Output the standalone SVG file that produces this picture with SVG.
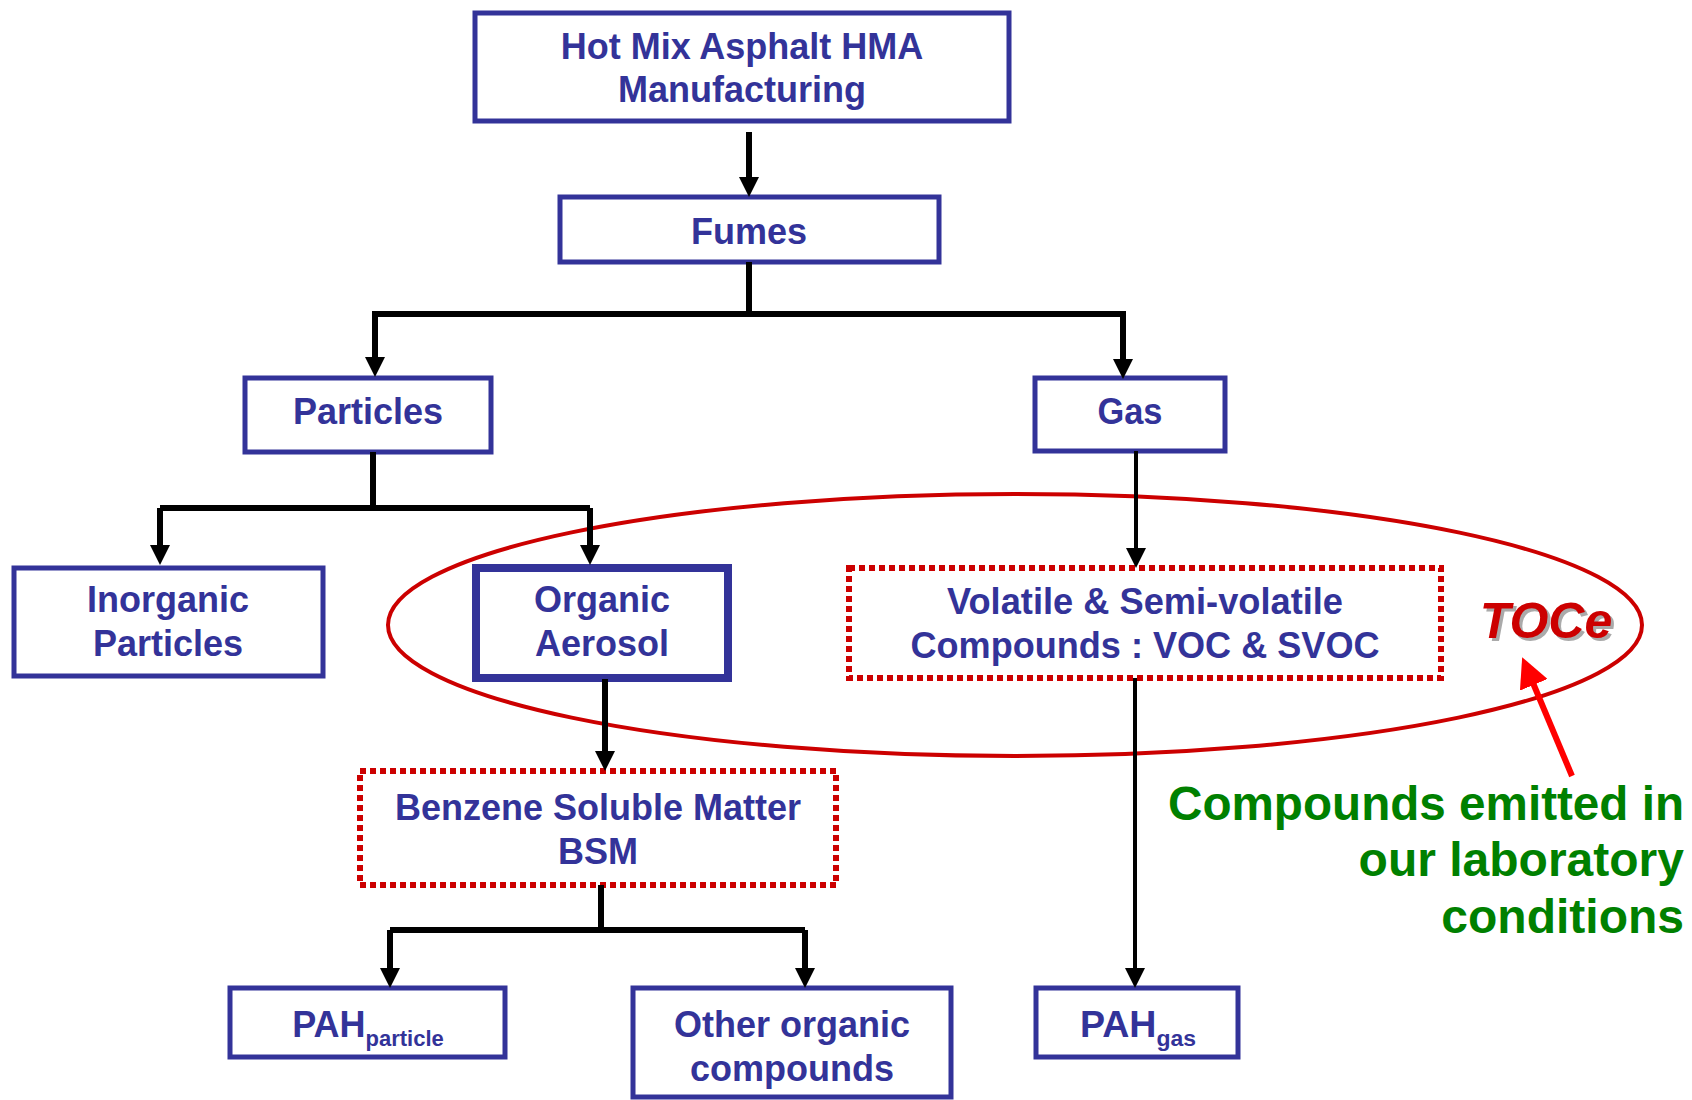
<svg xmlns="http://www.w3.org/2000/svg" width="1692" height="1100" viewBox="0 0 1692 1100">
<style>
.box{fill:#fff;stroke:#333399;stroke-width:5}
.thick{stroke-width:8}
.dot{fill:#fff;stroke:#CC0000;stroke-width:6;stroke-dasharray:6 4}
.t{font-family:"Liberation Sans",Arial,sans-serif;font-weight:bold;font-size:36px;fill:#333399;text-anchor:middle}
.sub{font-size:22px}
.c{fill:none;stroke:#000;stroke-width:6;stroke-linejoin:miter}
.thin{stroke-width:4}
.green{font-family:"Liberation Sans",Arial,sans-serif;font-weight:bold;font-size:48px;fill:#008000;text-anchor:end}
</style>
<defs>
<marker id="ah" viewBox="0 0 20 20" refX="0" refY="10" markerWidth="20" markerHeight="20" markerUnits="userSpaceOnUse" orient="auto">
<path d="M0,0 L20,10 L0,20 z" fill="#000"/>
</marker>
<marker id="rah" viewBox="0 0 30 30" refX="2" refY="15" markerWidth="30" markerHeight="30" markerUnits="userSpaceOnUse" orient="auto">
<path d="M0,0 L30,15 L0,30 z" fill="#FF0000"/>
</marker>
</defs>
<rect width="1692" height="1100" fill="#fff"/>

<ellipse id="toce-ellipse" cx="1015" cy="625" rx="627" ry="131" fill="none" stroke="#CC0000" stroke-width="4"/>

<g id="n-hma"><rect class="box" x="475" y="13" width="534" height="108"/>
<text class="t" x="742" y="59">Hot Mix Asphalt HMA</text><text class="t" x="742" y="102">Manufacturing</text></g>
<g id="n-fumes"><rect class="box" x="560" y="197" width="379" height="65"/><text class="t" x="749" y="244">Fumes</text></g>
<g id="n-particles"><rect class="box" x="245" y="378" width="246" height="74"/><text class="t" x="368" y="424">Particles</text></g>
<g id="n-gas"><rect class="box" x="1035" y="378" width="190" height="73"/><text class="t" x="1130" y="424" font-size="38" textLength="65" lengthAdjust="spacingAndGlyphs">Gas</text></g>
<g id="n-inorganic"><rect class="box" x="14" y="568" width="309" height="108"/>
<text class="t" x="168" y="612">Inorganic</text><text class="t" x="168" y="656">Particles</text></g>
<g id="n-organic"><rect class="box thick" x="476" y="568" width="252" height="110"/>
<text class="t" x="602" y="612">Organic</text><text class="t" x="602" y="656">Aerosol</text></g>
<g id="n-voc"><rect class="dot" x="849" y="568" width="592" height="110"/>
<text class="t" x="1145" y="614" font-size="40" textLength="396" lengthAdjust="spacingAndGlyphs">Volatile &amp; Semi-volatile</text>
<text class="t" x="1145" y="658" font-size="40" textLength="469" lengthAdjust="spacingAndGlyphs">Compounds : VOC &amp; SVOC</text></g>
<g id="n-bsm"><rect class="dot" x="360" y="771" width="476" height="114"/>
<text class="t" x="598" y="820">Benzene Soluble Matter</text><text class="t" x="598" y="864">BSM</text></g>
<g id="n-pahp"><rect class="box" x="230" y="988" width="275" height="69"/>
<text class="t" x="368" y="1037">PAH<tspan class="sub" dy="9">particle</tspan></text></g>
<g id="n-other"><rect class="box" x="633" y="988" width="318" height="109"/>
<text class="t" x="792" y="1037">Other organic</text><text class="t" x="792" y="1081">compounds</text></g>
<g id="n-pahg"><rect class="box" x="1036" y="988" width="202" height="69"/>
<text class="t" x="1138" y="1037" font-size="40" textLength="116" lengthAdjust="spacingAndGlyphs">PAH<tspan class="sub" font-size="26" dy="9">gas</tspan></text></g>

<g id="connectors">
<path class="c" d="M749,132 V177" marker-end="url(#ah)"/>
<path class="c" d="M749,262 V314"/>
<path class="c" d="M375,357 V314 H1123 V359" marker-start="none"/>
<path class="c" d="M375,314 V357" marker-end="url(#ah)"/>
<path class="c" d="M1123,314 V359" marker-end="url(#ah)"/>
<path class="c" d="M373,452 V508"/>
<path class="c" d="M160,508 H590"/>
<path class="c" d="M160,508 V545" marker-end="url(#ah)"/>
<path class="c" d="M590,508 V545" marker-end="url(#ah)"/>
<path class="c thin" d="M1136,451 V548" marker-end="url(#ah)"/>
<path class="c" d="M605,679 V751" marker-end="url(#ah)"/>
<path class="c" d="M601,885 V930"/>
<path class="c" d="M390,930 H805"/>
<path class="c" d="M390,930 V968" marker-end="url(#ah)"/>
<path class="c" d="M805,930 V968" marker-end="url(#ah)"/>
<path class="c thin" d="M1135,678 V968" marker-end="url(#ah)"/>
<path d="M1572,776 L1533,683" fill="none" stroke="#FF0000" stroke-width="6" marker-end="url(#rah)"/>
</g>

<g id="label-toce" font-family="'Liberation Sans',Arial,sans-serif" font-weight="bold" font-style="italic" font-size="50" text-anchor="middle">
<text x="1549" y="641" fill="#AAAAAA">TOCe</text>
<text x="1546" y="638" fill="#CC0000">TOCe</text>
</g>
<g id="label-green">
<text class="green" x="1684" y="820" textLength="516" lengthAdjust="spacingAndGlyphs">Compounds emitted in</text>
<text class="green" x="1684" y="876">our laboratory</text>
<text class="green" x="1684" y="933">conditions</text>
</g>
</svg>
